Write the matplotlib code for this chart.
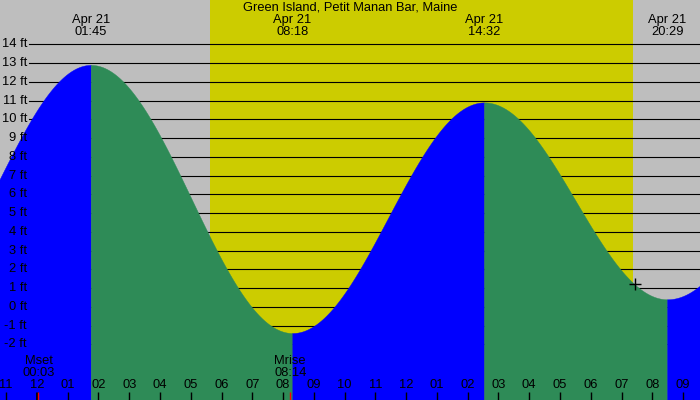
import numpy as np
import matplotlib
matplotlib.use("Agg")
import matplotlib.pyplot as plt
from matplotlib.transforms import blended_transform_factory

plt.rcParams['font.family'] = ['Liberation Sans', 'DejaVu Sans']

title = "Green Island, Petit Manan Bar, Maine"

# tide extremes, hours from midnight Apr 21 (first and last lie outside the view)
extreme_hours = [-4.3, 1.75, 8.3, 14.533, 20.483, 26.78]
extreme_heights = [0.3, 12.9, -1.4, 10.9, 0.4, 11.0]
extreme_labels = ["01:45", "08:18", "14:32", "20:29"]
extreme_dates = ["Apr 21", "Apr 21", "Apr 21", "Apr 21"]

sunrise_hour = 5.62   # 05:37
sunset_hour = 19.38   # 19:23

moon_hours = [0.05, 8.233]
moon_names = ["Mset", "Mrise"]
moon_labels = ["00:03", "08:14"]

mark_hour = 19.43

hour_ticks = list(range(-1, 22))
hour_labels = ["11", "12", "01", "02", "03", "04", "05", "06", "07", "08", "09", "10",
               "11", "12", "01", "02", "03", "04", "05", "06", "07", "08", "09"]

level_ticks = list(range(-2, 15))

x_min, x_max = -1.2, 21.55
y_min, y_max = -4.97, 16.36

gray = "#bebebe"
yellow = "#cccc00"
blue = "#0000ff"
green = "#2e8b57"
fs = 9.3

fig = plt.figure(figsize=(7, 4), dpi=100)
ax = fig.add_axes([0, 0, 1, 1])
ax.set_xlim(x_min, x_max)
ax.set_ylim(y_min, y_max)
ax.axis('off')
fig.patch.set_facecolor(gray)
ax.set_facecolor(gray)

# daylight band
ax.axvspan(sunrise_hour, sunset_hour, color=yellow, lw=0, zorder=0)

# level lines
for lv in level_ticks:
    ax.axhline(lv, xmin=29 / 700, xmax=1, color='black', lw=0.8, zorder=1)

# tide curve, cosine shape between successive extremes
curve_t = []
curve_h = []
for i in range(len(extreme_hours) - 1):
    t0, t1 = extreme_hours[i], extreme_hours[i + 1]
    h0, h1 = extreme_heights[i], extreme_heights[i + 1]
    tt = np.linspace(t0, t1, 200)
    hh = h0 + (h1 - h0) * (1 - np.cos(np.pi * (tt - t0) / (t1 - t0))) / 2
    colour = blue if h1 > h0 else green
    ax.fill_between(tt, y_min - 1, hh, facecolor=colour, edgecolor=colour,
                    lw=0.3, zorder=2)
    curve_t.extend(tt)
    curve_h.extend(hh)

# marker on curve
mark_h = np.interp(mark_hour, curve_t, curve_h)
ax.plot([mark_hour], [mark_h], marker='+', color='black', ms=8, mew=1, zorder=4)

# level labels
trans_y = blended_transform_factory(ax.transAxes, ax.transData)
for lv in level_ticks:
    ax.text(27 / 700, lv, f"{lv} ft", transform=trans_y, ha='right', va='center',
            fontsize=fs, zorder=5)

trans_x = blended_transform_factory(ax.transData, ax.transAxes)

# hour ticks
for hr, lab in zip(hour_ticks, hour_labels):
    lw = 2 if hr == 0 else 1
    ax.plot([hr, hr], [0, 8 / 400], transform=trans_x, color='black', lw=lw,
            solid_capstyle='butt', zorder=5, clip_on=False)
    ax.text(hr, 1 - 385 / 400, lab, transform=trans_x, ha='center', va='center',
            fontsize=fs, zorder=5)

# moon rise/set
for hr, name, lab in zip(moon_hours, moon_names, moon_labels):
    ax.plot([hr, hr], [0, 8 / 400], transform=trans_x, color='red', lw=1,
            solid_capstyle='butt', zorder=6)
    ax.text(hr, 1 - 361 / 400, name, transform=trans_x, ha='center', va='center',
            fontsize=fs, zorder=5)
    ax.text(hr, 1 - 373 / 400, lab, transform=trans_x, ha='center', va='center',
            fontsize=fs, zorder=5)

# extreme labels
for hr, d, lab in zip(extreme_hours[1:-1], extreme_dates, extreme_labels):
    ax.text(hr, 1 - 20 / 400, d, transform=trans_x, ha='center', va='center',
            fontsize=fs, zorder=5)
    ax.text(hr, 1 - 32 / 400, lab, transform=trans_x, ha='center', va='center',
            fontsize=fs, zorder=5)

ax.text(0.5, 1 - 7.5 / 400, title, transform=ax.transAxes, ha='center', va='center',
        fontsize=fs, zorder=5)

fig.savefig("out.png", dpi=100, facecolor=gray)
